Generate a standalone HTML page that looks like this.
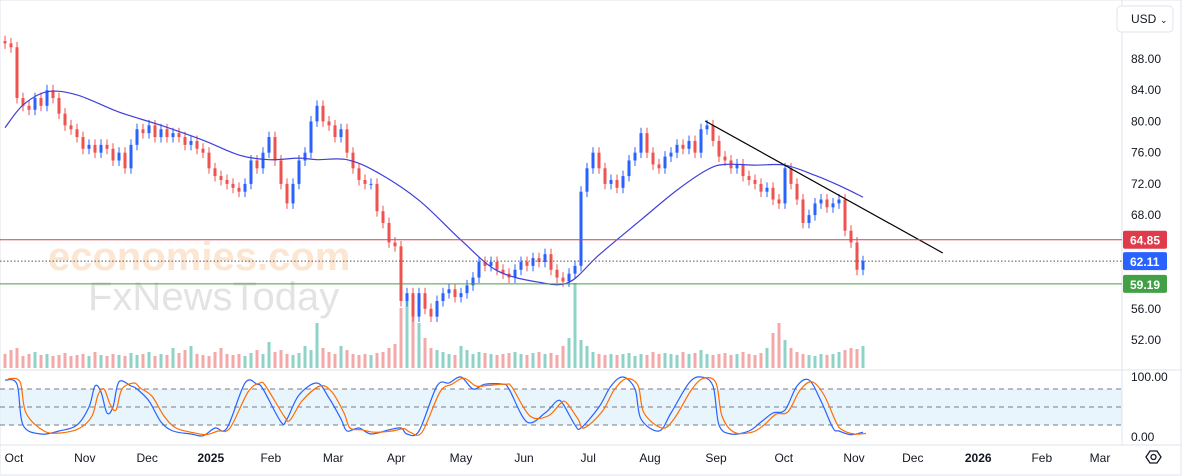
<!DOCTYPE html>
<html><head><meta charset="utf-8"><style>
body{margin:0;background:#fff;width:1182px;height:476px;overflow:hidden;font-family:"Liberation Sans",sans-serif}
svg{display:block}
</style></head><body>
<svg id="chart" width="1182" height="476" xmlns="http://www.w3.org/2000/svg">
<rect x="0" y="0" width="1182" height="476" fill="#fff"/>
<rect x="0" y="0" width="1181" height="475" fill="none" stroke="#e0e3eb"/>
<rect x="0" y="389" width="1122" height="36" fill="#e3f2fd" opacity="0.8"/>
<g opacity="0.28">
<text x="48" y="270" font-size="40" fill="#f5a35c" font-weight="bold">economies.com</text>
<text x="88" y="310" font-size="40" fill="#9e9e9e">FxNewsToday</text>
</g>
<line x1="1122" y1="0" x2="1122" y2="445" stroke="#e0e3eb"/>
<line x1="0" y1="370" x2="1182" y2="370" stroke="#e0e3eb"/>
<line x1="0" y1="445" x2="1182" y2="445" stroke="#e0e3eb"/>
<g id="grid"></g><g id="vol"></g><g id="candles"></g><g id="ma"></g><g id="levels"></g><g id="stoch"></g><g id="axes"></g>
<rect x="1117" y="6" width="56" height="26" rx="4" fill="#fff" stroke="#e0e3eb"/>
<text x="1131" y="23" font-size="12" fill="#131722">USD</text>
<text x="1160" y="23" font-size="9" fill="#131722">⌄</text>
<g><polygon points="1146,457 1150,451 1157,451 1161,457 1157,463 1150,463" fill="none" stroke="#131722" stroke-width="1.3"/><circle cx="1153.5" cy="457" r="2.5" fill="none" stroke="#131722" stroke-width="1.3"/></g>
</svg>
<script>
const closes=[90,89.5,83,82,81.5,83,82,84,83,81,79.5,79,78,76.5,77,76,77,76.5,75,76,74,77,79,78.5,79.5,78,79,78,78.5,78,77,77.5,76.5,76,74,73,72.5,72,71.5,71,72,75,74,76,78,75,72,69.5,72,75,76,80,82,80,79.5,78,79,76,74,72.5,72,72,68.5,67,64.5,64,57,58,55,58,56,55,57,58,58.5,57.5,58,59,60,62,61.5,62,61,60.5,60,61,62,61.5,62.5,62,63,61,60,59.5,60.5,61.5,71,74,76,74,72,72.5,71.5,73,75,76,78.5,76,74.5,74,75.5,76,77,76.5,77.5,76,79,79.5,77.5,75.5,75,74,74.5,73,72.5,72,71,71.5,70,69.5,74,72,70,67,68,69.5,70,69,69.5,70,66,64.5,61,62.1];
const volumes=[14,18,20,12,14,16,13,14,12,13,15,12,13,14,12,16,13,12,14,13,12,15,13,14,16,12,14,13,20,15,18,22,14,13,12,16,20,14,13,14,12,15,18,14,26,16,18,14,13,15,22,18,45,20,16,14,22,18,14,13,14,13,15,16,20,24,60,70,55,45,30,20,18,16,14,13,22,18,14,16,15,14,13,14,15,16,14,13,15,16,14,15,13,22,30,85,28,22,16,14,13,14,13,14,15,12,14,13,16,14,15,14,13,16,14,15,18,14,13,14,15,13,14,16,14,13,15,20,35,45,28,20,16,14,13,12,14,13,14,16,18,20,19,22];
const maDates=[0,3,7,12,19,26,33,39,44,49,52,57,62,69,76,82,89,94,99,106,112,117,120,125,130,135,139,143];
const maValues=[79.2,82.1,83.8,83.4,81.2,79.5,77.6,75.7,75.1,75.3,75.1,75.1,73.5,69.9,64.8,60.9,59.4,59.4,62.9,67.4,71.2,73.8,74.5,74.4,74.4,73.1,71.8,70.3];
const stochDates=[0,2,3,6,9,12,14,15,16,17,18,19,21,22,24,26,28,31,33,35,37,40,42,43,46,47,49,52,54,56,57,59,61,64,66,67,69,72,74,76,78,80,83,84,87,90,92,93,95,96,99,101,103,105,106,109,111,114,116,118,119,121,124,126,128,130,132,134,136,138,139,141,143];
const stochK=[95,88,20,5,10,20,50,85,75,40,50,92,85,80,60,25,10,5,2,15,15,90,88,80,25,30,70,90,65,30,10,15,5,12,15,5,10,85,90,100,80,88,88,80,25,40,60,55,20,15,50,85,100,80,30,10,40,90,100,85,20,5,10,25,40,45,85,95,60,15,10,4,8];
const stochD=[97,92,40,10,7,15,35,70,80,55,45,80,90,82,68,35,15,7,4,10,15,75,90,84,35,28,60,85,75,40,15,12,8,10,14,8,8,75,88,98,85,86,88,83,35,35,55,58,30,15,42,78,97,86,40,15,30,80,98,90,35,8,8,20,38,42,78,92,70,25,12,5,6];
const priceTicks=[88,84,80,76,72,68,56,52];
const monthLabels=["Oct","Nov","Dec","2025","Feb","Mar","Apr","May","Jun","Jul","Aug","Sep","Oct","Nov","Dec","2026","Feb","Mar"];
const monthIdx=[1.5,13.3,23.7,34.3,44.3,54.7,65.2,76,86.5,97.2,107.5,118.5,129.8,141.5,151.3,162.2,172.8,182.5];
const levelValues=[64.85,62.11,59.19];
const trendDates=[116.7,156.3];
const trendValues=[80.06,63.15];

const NS="http://www.w3.org/2000/svg";
const X=i=>5+i*6, Y=p=>59+(88-p)*7.806, VY=v=>368-v, SY=s=>437-s*0.6;
function mk(tag,attrs,parent){const e=document.createElementNS(NS,tag);for(const k in attrs)e.setAttribute(k,attrs[k]);document.getElementById(parent).appendChild(e);return e;}
function smooth(pts){let d="M"+pts[0][0]+","+pts[0][1];for(let i=0;i<pts.length-1;i++){const p0=pts[i-1]||pts[i],p1=pts[i],p2=pts[i+1],p3=pts[i+2]||p2;d+=" C"+(p1[0]+(p2[0]-p0[0])/6)+","+(p1[1]+(p2[1]-p0[1])/6)+" "+(p2[0]-(p3[0]-p1[0])/6)+","+(p2[1]-(p3[1]-p1[1])/6)+" "+p2[0]+","+p2[1];}return d;}

closes.forEach((c,i)=>{
  const o=i?closes[i-1]:c+0.3, up=c>=o, col=up?"#2962ff":"#ef5350";
  const hi=Math.max(o,c)+0.7, lo=Math.min(o,c)-0.7;
  const w=mk("line",{x1:X(i),x2:X(i),y1:Y(hi),y2:Y(lo),stroke:col,"stroke-width":1},"candles");
  
  
  const b=mk("rect",{x:X(i)-1.5,y:Y(Math.max(o,c)),width:3,height:Math.max(1,Math.abs(Y(o)-Y(c))),fill:col},"candles");
  
  
  const v=mk("rect",{x:X(i)-1.5,y:VY(volumes[i]),width:3,height:volumes[i],fill:up?"#8fd3c8":"#f4a9a9"},"vol");
  
  
});
const ma=mk("path",{d:smooth(maDates.map((t,i)=>[X(t),Y(maValues[i])])),fill:"none",stroke:"#3f3fd9","stroke-width":1.2},"ma");


const tl=mk("line",{x1:X(trendDates[0]),y1:Y(trendValues[0]),x2:X(trendDates[1]),y2:Y(trendValues[1]),stroke:"#000","stroke-width":1.2},"ma");



const lvCols=["#e03b4a","#2962ff","#43a047"], lvStroke=["#e03b4a","#555","#43a047"];
levelValues.forEach((v,i)=>{
  const l=mk("line",{x1:0,x2:1122,y1:Y(v),y2:Y(v),stroke:lvStroke[i],"stroke-width":1,"stroke-dasharray":i==1?"1.5,2":"none"},"levels");
  
  
  const r=mk("rect",{x:1123,y:Y(v)-9,width:44,height:18,rx:2,fill:lvCols[i]},"levels");
  
  
  const t=mk("text",{x:1130,y:Y(v)+5,"font-size":12,fill:"#fff","font-weight":"bold"},"levels");
  t.textContent=v.toFixed(2);
  
  
});
[80,50,20].forEach(s=>{
  const l=mk("line",{x1:0,x2:1122,y1:SY(s),y2:SY(s),stroke:"#787b86","stroke-dasharray":"5,4"},"stoch");
  
  
});
const pk=mk("path",{d:smooth(stochDates.map((t,i)=>[X(t),SY(stochK[i])])),fill:"none",stroke:"#2962ff","stroke-width":1.2},"stoch");


const pd=mk("path",{d:smooth(stochDates.map((t,i)=>[X(t)+3,SY(stochD[i])])),fill:"none",stroke:"#ff6d00","stroke-width":1.2},"stoch");



priceTicks.forEach(p=>{
  const t=mk("text",{x:1131,y:Y(p)+4,"font-size":12,fill:"#131722"},"axes");
  t.textContent=p.toFixed(2);
  
  
});
[[100,SY(100)+4],[0,SY(0)+4]].forEach(a=>{
  const t=mk("text",{x:1131,y:a[1],"font-size":12,fill:"#131722"},"axes");
  t.textContent=a[0].toFixed(2);
  
  
});
monthLabels.forEach((m,i)=>{
  const t=mk("text",{x:X(monthIdx[i]),y:462,"font-size":12,fill:"#131722","text-anchor":"middle","font-weight":(m=="2025"||m=="2026")?"bold":"normal"},"axes");
  t.textContent=m;
  
  
});
</script>
</body></html>
